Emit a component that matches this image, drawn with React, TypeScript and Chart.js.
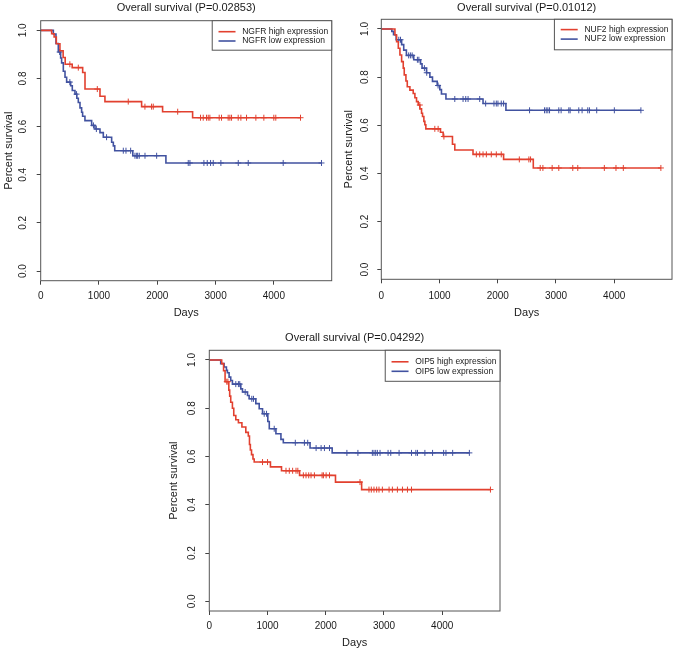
import { useEffect, useRef } from "react";
import { Chart, registerables } from "chart.js";

Chart.register(...registerables);

const FONT = '"Liberation Sans", Arial, Helvetica, sans-serif';
const RED = "#e2402f";
const BLUE = "#4152a0";
const TEXT = "#1a1a1a";
const FRAME = "#555555";

// ---- axes ----
const xTicks = [0, 1000, 2000, 3000, 4000];
const xTickLabels = ["0", "1000", "2000", "3000", "4000"];
const yTicks = [0, 0.2, 0.4, 0.6, 0.8, 1.0];
const yTickLabels = ["0.0", "0.2", "0.4", "0.6", "0.8", "1.0"];
const xRange = [0, 4992];
const yRange = [-0.04, 1.04];
const xTitle = "Days";
const yTitle = "Percent survival";

// ---- panel texts ----
const panelTitles = [
  "Overall survival (P=0.02853)",
  "Overall survival (P=0.01012)",
  "Overall survival (P=0.04292)",
];
const highLabels = ["NGFR high expression", "NUF2 high expression", "OIP5 high expression"];
const lowLabels = ["NGFR low expression", "NUF2 low expression", "OIP5 low expression"];

// ---- NGFR ----
const ngfrHighTimes = [188, 230, 268, 330, 385, 420, 540, 720, 760, 1017, 1102, 1731, 2091, 2606];
const ngfrHighSurv = [0.986, 0.972, 0.944, 0.915, 0.887, 0.859, 0.845, 0.825, 0.756, 0.726, 0.704, 0.683, 0.662, 0.637];
const ngfrHighCensor = [500, 645, 971, 1502, 1788, 1902, 1931, 2350, 2742, 2788, 2845, 2874, 2902, 3062, 3102, 3216, 3245, 3274, 3388, 3434, 3531, 3691, 3828, 3999, 4033, 4457];
const ngfrLowTimes = [217, 262, 302, 342, 359, 388, 417, 445, 514, 542, 588, 620, 645, 674, 702, 719, 759, 874, 931, 1017, 1074, 1217, 1246, 1270, 1580, 2148];
const ngfrLowSurv = [0.985, 0.945, 0.91, 0.885, 0.865, 0.83, 0.805, 0.785, 0.77, 0.75, 0.735, 0.718, 0.7, 0.678, 0.66, 0.643, 0.625, 0.605, 0.59, 0.575, 0.556, 0.535, 0.52, 0.5, 0.479, 0.449];
const ngfrLowCensor = [325, 500, 615, 905, 955, 1130, 1417, 1463, 1543, 1617, 1646, 1663, 1691, 1789, 1989, 2531, 2560, 2800, 2857, 2914, 2960, 3091, 3389, 3560, 4160, 4817];

// ---- NUF2 ----
const nuf2HighTimes = [234, 263, 292, 320, 349, 377, 394, 423, 446, 491, 548, 577, 605, 634, 662, 691, 708, 731, 748, 765, 1016, 1062, 1222, 1262, 1575, 2100, 2610];
const nuf2HighSurv = [0.975, 0.947, 0.92, 0.892, 0.864, 0.837, 0.809, 0.784, 0.76, 0.746, 0.732, 0.714, 0.698, 0.684, 0.668, 0.65, 0.636, 0.616, 0.602, 0.585, 0.571, 0.553, 0.521, 0.497, 0.479, 0.458, 0.4225];
const nuf2HighCensor = [661, 919, 976, 1075, 1632, 1690, 1747, 1804, 1889, 1975, 2060, 2370, 2534, 2563, 2729, 2775, 2934, 3048, 3288, 3374, 3830, 4030, 4156, 4801];
const nuf2LowTimes = [180, 210, 255, 349, 385, 431, 557, 674, 700, 776, 834, 879, 960, 1005, 1033, 1110, 1747, 2140];
const nuf2LowSurv = [0.99, 0.976, 0.955, 0.935, 0.912, 0.89, 0.872, 0.855, 0.837, 0.818, 0.8, 0.782, 0.765, 0.748, 0.73, 0.709, 0.69, 0.662];
const nuf2LowCensor = [300, 330, 470, 500, 530, 620, 645, 740, 780, 975, 1262, 1404, 1450, 1490, 1690, 1792, 1935, 1975, 2003, 2060, 2100, 2546, 2803, 2832, 2860, 2889, 3048, 3088, 3220, 3243, 3391, 3448, 3545, 3574, 3699, 4002, 4458];

// ---- OIP5 ----
const oip5HighTimes = [213, 245, 271, 335, 350, 368, 397, 420, 455, 500, 560, 627, 670, 690, 705, 725, 750, 771, 1050, 1240, 1550, 2167, 2616];
const oip5HighSurv = [0.985, 0.955, 0.91, 0.875, 0.85, 0.825, 0.8, 0.77, 0.752, 0.74, 0.722, 0.7, 0.685, 0.65, 0.627, 0.608, 0.59, 0.577, 0.557, 0.541, 0.522, 0.494, 0.463];
const oip5HighCensor = [300, 320, 914, 1000, 1317, 1374, 1431, 1489, 1520, 1615, 1661, 1707, 1747, 1805, 1937, 1960, 2006, 2064, 2588, 2742, 2782, 2828, 2874, 2914, 2972, 3087, 3144, 3230, 3317, 3403, 3472, 4828];
const oip5LowTimes = [196, 254, 294, 311, 340, 368, 397, 541, 570, 656, 684, 799, 857, 914, 1005, 1030, 1144, 1230, 1271, 1730, 2110];
const oip5LowSurv = [0.985, 0.971, 0.957, 0.947, 0.929, 0.915, 0.9, 0.88, 0.867, 0.853, 0.839, 0.819, 0.798, 0.777, 0.745, 0.715, 0.694, 0.671, 0.657, 0.635, 0.615];
const oip5LowCensor = [455, 500, 523, 616, 730, 759, 943, 983, 1115, 1477, 1633, 1690, 1834, 1920, 1977, 2064, 2363, 2552, 2800, 2828, 2857, 2886, 2932, 3070, 3116, 3259, 3472, 3547, 3575, 3702, 3834, 4024, 4064, 4179, 4466];

type Series = { times: number[]; surv: number[]; censor: number[] };

const panelSeries: { high: Series; low: Series }[] = [
  { high: { times: ngfrHighTimes, surv: ngfrHighSurv, censor: ngfrHighCensor }, low: { times: ngfrLowTimes, surv: ngfrLowSurv, censor: ngfrLowCensor } },
  { high: { times: nuf2HighTimes, surv: nuf2HighSurv, censor: nuf2HighCensor }, low: { times: nuf2LowTimes, surv: nuf2LowSurv, censor: nuf2LowCensor } },
  { high: { times: oip5HighTimes, surv: oip5HighSurv, censor: oip5HighCensor }, low: { times: oip5LowTimes, surv: oip5LowSurv, censor: oip5LowCensor } },
];

// ---- layout (positions / sizes only) ----
type Layout = {
  left: number; top: number; width: number; height: number;
  padTop: number; padRight: number; yW: number; xH: number;
  xLabPad: number; titleOff: number; xTitleOff: number; yLabOff: number; yTitleOff: number;
  legRow1: number; legRow2: number; legH: number;
};
const layouts: Layout[] = [
  { left: 0, top: 0, width: 338, height: 322, padTop: 20.7, padRight: 6.3, yW: 40.7, xH: 41.3, xLabPad: 6, titleOff: 12.4, xTitleOff: 32.3, yLabOff: 17.4, yTitleOff: 31.7, legRow1: 11, legRow2: 20.3, legH: 29.5 },
  { left: 337, top: 0, width: 340, height: 322, padTop: 19.3, padRight: 5, yW: 44.3, xH: 42.7, xLabPad: 7, titleOff: 11, xTitleOff: 33.7, yLabOff: 16, yTitleOff: 32.6, legRow1: 10.3, legRow2: 19.8, legH: 30.5 },
  { left: 160, top: 322, width: 360, height: 331, padTop: 28.3, padRight: 20, yW: 49.3, xH: 42, xLabPad: 5.7, titleOff: 12, xTitleOff: 31.7, yLabOff: 17.4, yTitleOff: 35, legRow1: 11.5, legRow2: 21, legH: 31 },
];

function survAt(s: Series, t: number): number {
  let v = 1;
  for (let i = 0; i < s.times.length; i++) if (s.times[i] <= t) v = s.surv[i];
  return v;
}

function stepPoints(s: Series) {
  const pts = [{ x: 0, y: 1 }];
  s.times.forEach((t, i) => pts.push({ x: t, y: s.surv[i] }));
  const end = Math.max(...s.censor);
  pts.push({ x: end, y: s.surv[s.surv.length - 1] });
  return pts;
}

function censorPoints(s: Series) {
  return s.censor.map((t) => ({ x: t, y: survAt(s, t) }));
}

function Panel({ idx }: { idx: number }) {
  const ref = useRef<HTMLCanvasElement>(null);
  const L = layouts[idx];
  useEffect(() => {
    if (!ref.current) return;
    const S = panelSeries[idx];
    const decor = {
      id: "decor",
      afterDraw(chart: any) {
        const { ctx, chartArea: a } = chart;
        const ys = chart.scales.y;
        ctx.save();
        // frame
        ctx.strokeStyle = FRAME;
        ctx.lineWidth = 1;
        ctx.strokeRect(a.left, a.top, a.right - a.left, a.bottom - a.top);
        // title
        ctx.fillStyle = TEXT;
        ctx.font = `11px ${FONT}`;
        ctx.textAlign = "center";
        ctx.textBaseline = "middle";
        ctx.fillText(panelTitles[idx], (a.left + a.right) / 2, a.top - L.titleOff);
        // x title
        ctx.fillText(xTitle, (a.left + a.right) / 2, a.bottom + L.xTitleOff);
        // y title
        ctx.save();
        ctx.translate(a.left - L.yTitleOff, (a.top + a.bottom) / 2);
        ctx.rotate(-Math.PI / 2);
        ctx.fillText(yTitle, 0, 0);
        ctx.restore();
        // y tick labels (rotated, R style)
        ctx.font = `10px ${FONT}`;
        yTicks.forEach((v, i) => {
          const py = ys.getPixelForValue(v);
          ctx.save();
          ctx.translate(a.left - L.yLabOff, py);
          ctx.rotate(-Math.PI / 2);
          ctx.fillText(yTickLabels[i], 0, 0);
          ctx.restore();
        });
        // legend
        ctx.font = `8.5px ${FONT}`;
        const tw = Math.max(ctx.measureText(highLabels[idx]).width, ctx.measureText(lowLabels[idx]).width);
        const lw = tw + 33.5;
        const lx = a.right - lw;
        const ly = a.top;
        ctx.fillStyle = "#ffffff";
        ctx.fillRect(lx, ly, lw, L.legH);
        ctx.strokeStyle = FRAME;
        ctx.lineWidth = 1;
        ctx.strokeRect(lx, ly, lw, L.legH);
        const rows: [string, string, number][] = [
          [highLabels[idx], RED, L.legRow1],
          [lowLabels[idx], BLUE, L.legRow2],
        ];
        rows.forEach(([label, col, off]) => {
          ctx.strokeStyle = col;
          ctx.lineWidth = 1.6;
          ctx.beginPath();
          ctx.moveTo(lx + 6.3, ly + off);
          ctx.lineTo(lx + 23.3, ly + off);
          ctx.stroke();
          ctx.fillStyle = TEXT;
          ctx.textAlign = "left";
          ctx.fillText(label, lx + 30, ly + off);
        });
        ctx.restore();
      },
    };
    const gridOpts = { drawOnChartArea: false, drawTicks: true, tickLength: 4, color: "#444", lineWidth: 1 };
    const chart = new Chart(ref.current, {
      type: "line",
      data: {
        datasets: [
          { data: stepPoints(S.high), borderColor: RED, borderWidth: 1.6, stepped: "before", pointRadius: 0, fill: false },
          { data: stepPoints(S.low), borderColor: BLUE, borderWidth: 1.6, stepped: "before", pointRadius: 0, fill: false },
          { data: censorPoints(S.high), showLine: false, pointStyle: "cross", pointRadius: 3, borderColor: RED, borderWidth: 1, backgroundColor: RED },
          { data: censorPoints(S.low), showLine: false, pointStyle: "cross", pointRadius: 3, borderColor: BLUE, borderWidth: 1, backgroundColor: BLUE },
        ],
      } as any,
      options: {
        responsive: false,
        animation: false,
        events: [],
        layout: { padding: { left: 0, top: L.padTop, right: L.padRight, bottom: 0 } },
        plugins: { legend: { display: false }, tooltip: { enabled: false }, title: { display: false } },
        scales: {
          x: {
            type: "linear",
            min: xRange[0],
            max: xRange[1],
            afterBuildTicks: (s: any) => { s.ticks = xTicks.map((v) => ({ value: v })); },
            afterFit: (s: any) => { s.height = L.xH; },
            ticks: {
              callback: (_v: any, i: number) => xTickLabels[i],
              font: { family: FONT, size: 10 },
              color: TEXT,
              padding: L.xLabPad,
              autoSkip: false,
              maxRotation: 0,
              minRotation: 0,
            },
            grid: gridOpts,
            border: { display: false },
          },
          y: {
            type: "linear",
            min: yRange[0],
            max: yRange[1],
            afterBuildTicks: (s: any) => { s.ticks = yTicks.map((v) => ({ value: v })); },
            afterFit: (s: any) => { s.width = L.yW; },
            ticks: { display: false },
            grid: gridOpts,
            border: { display: false },
          },
        },
      } as any,
      plugins: [decor],
    });
    return () => chart.destroy();
  }, [idx]);
  return (
    <canvas
      ref={ref}
      width={L.width}
      height={L.height}
      style={{ position: "absolute", left: L.left, top: L.top, width: L.width, height: L.height }}
    />
  );
}

export default function App() {
  return (
    <div style={{ position: "fixed", left: 0, top: 0, width: 677, height: 653, background: "#ffffff" }}>
      <Panel idx={0} />
      <Panel idx={1} />
      <Panel idx={2} />
    </div>
  );
}
